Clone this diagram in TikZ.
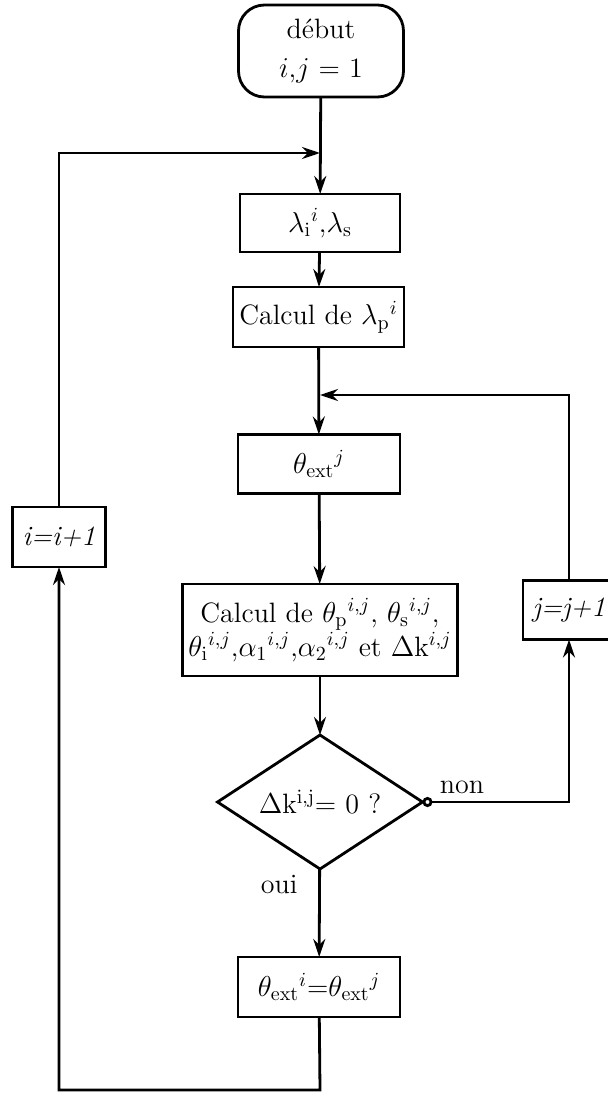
\documentclass[tikz,border=0pt]{standalone}
\usepackage{amsmath}
\usetikzlibrary{arrows.meta, shapes.geometric}

\begin{document}
\begin{tikzpicture}[
  x=0.5pt, y=-0.5pt,
  font=\fontsize{14}{17}\selectfont,
  line width=1.4pt,
  >={Stealth[length=9pt, width=6pt, inset=3pt]},
  box/.style={draw, align=center, inner sep=0pt, outer sep=0pt},
  debut/.style={box, rounded corners=13pt},
  test/.style={draw, diamond, aspect=1.53, inner sep=0pt, outer sep=0pt,
               minimum width=102.5pt, minimum height=67pt},
  ar/.style={->}
]
\useasboundingbox (0,0) rectangle (608,1102);
\node[debut, minimum width=82.5pt, minimum height=46pt,
      font=\fontsize{14}{19.5}\selectfont] (start) at (321,51)
  {début\\$i$,$j$ = 1};
\node[box, minimum width=80pt, minimum height=29pt] (lam) at (320,223)
  {$\lambda_{\mathrm{i}}{}^{i}$,$\lambda_{\mathrm{s}}$};
\node[box, minimum width=85.5pt, minimum height=30pt] (calcl) at (318.5,317)
  {Calcul de $\lambda_{\mathrm{p}}{}^{i}$};
\node[box, minimum width=81pt, minimum height=29.5pt] (thext) at (319,464)
  {$\theta_{\mathrm{ext}}{}^{j}$};
\node[box, inner xsep=3pt, minimum height=46pt] (calct) at (320,630)
  {Calcul de $\theta_{\mathrm{p}}{}^{i{,}j}$, $\theta_{\mathrm{s}}{}^{i{,}j}$,\\
   $\theta_{\mathrm{i}}{}^{i{,}j}$,$\alpha_1{}^{i{,}j}$,$\alpha_2{}^{i{,}j}$ et $\Delta$k$^{i{,}j}$};
\node[test] (test) at (320,802) {$\Delta$k$^{\mathrm{i,j}}$= 0 ?};
\node[box, minimum width=81pt, minimum height=30pt] (fin) at (319,987)
  {$\theta_{\mathrm{ext}}{}^{i}$=$\theta_{\mathrm{ext}}{}^{j}$};
\node[box, minimum width=46.5pt, minimum height=30pt] (iinc) at (59,537)
  {\textit{i=i+1}};
\node[box, minimum width=46pt, minimum height=29.5pt] (jinc) at (569,610)
  {\textit{j=j+1}};
\coordinate (jl) at (320,153);
\coordinate (jr) at (320,395);
\coordinate (rbot) at (569,802);
\coordinate (bot) at (320,1090);
\draw[ar] (start) -- (lam);
\draw[ar] (lam) -- (calcl);
\draw[ar] (calcl) -- (thext);
\draw[ar] (thext) -- (calct);
\draw[ar] (calct) -- (test);
\draw[ar] (test) -- node[pos=0.18, left=7pt] {oui} (fin);
\draw[{Circle[open, length=5pt]}->] (test.east)
  -- node[pos=0.27, above] {non} (rbot) -- (jinc);
\draw[ar] (jinc) |- (jr);
\draw[ar] (fin) -- (bot) -| (iinc);
\draw[ar] (iinc) |- (jl);
\end{tikzpicture}
\end{document}
